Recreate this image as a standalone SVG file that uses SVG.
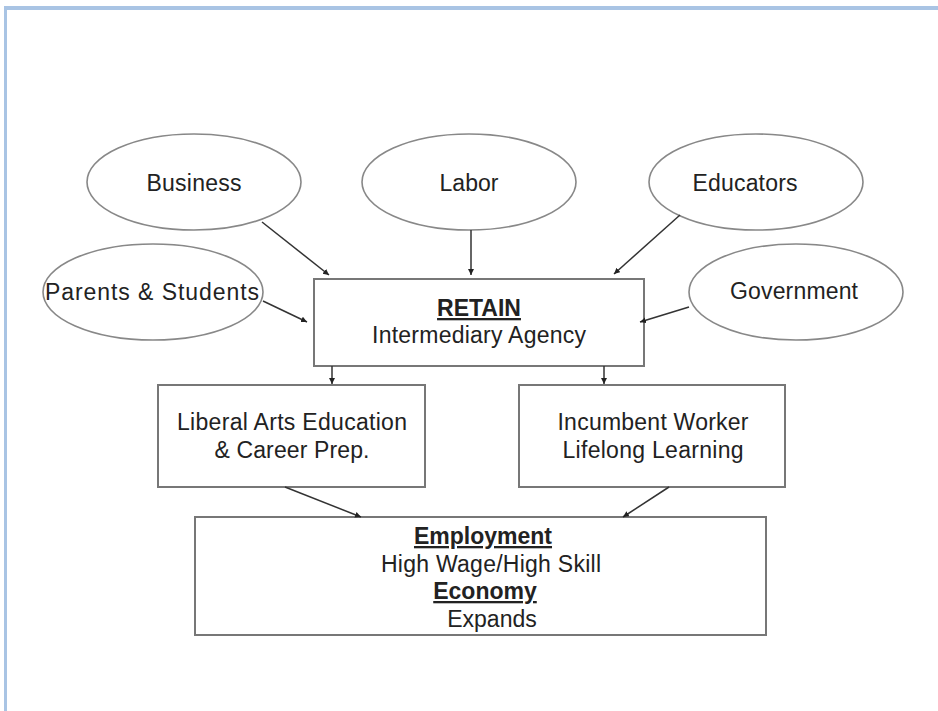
<svg xmlns="http://www.w3.org/2000/svg" width="938" height="711" viewBox="0 0 938 711">
<style>
.t{font-family:"Liberation Sans",Arial,sans-serif;font-size:23px;fill:#222;text-anchor:middle}
.b{font-weight:bold;text-decoration:underline}
.e{fill:#fff;stroke:#888;stroke-width:1.6}
.r{fill:#fff;stroke:#777;stroke-width:2}
.c{stroke:#333;stroke-width:1.5;fill:none;marker-end:url(#ah)}
</style>
<defs>
<marker id="ah" markerWidth="8" markerHeight="8" refX="6" refY="3" orient="auto" markerUnits="userSpaceOnUse">
<path d="M0,0 L6,3 L0,6 Z" fill="#222"/>
</marker>
</defs>
<rect x="0" y="0" width="938" height="711" fill="#fff"/>
<g id="frame">
<rect x="4" y="6" width="934" height="4" fill="#a9c4e4"/>
<rect x="4" y="6" width="3" height="705" fill="#a9c4e4"/>
</g>
<g id="business">
<ellipse class="e" cx="194" cy="182" rx="107" ry="48"/>
<text class="t" x="194" y="191" textLength="95">Business</text>
</g>
<g id="labor">
<ellipse class="e" cx="469" cy="182" rx="107" ry="48"/>
<text class="t" x="469" y="191">Labor</text>
</g>
<g id="educators">
<ellipse class="e" cx="756" cy="182" rx="107" ry="48"/>
<text class="t" x="745" y="191" textLength="105">Educators</text>
</g>
<g id="parents">
<ellipse class="e" cx="153" cy="292" rx="110" ry="48"/>
<text class="t" x="152" y="300" textLength="214">Parents &amp; Students</text>
</g>
<g id="government">
<ellipse class="e" cx="796" cy="292" rx="107" ry="48"/>
<text class="t" x="794" y="299" textLength="128">Government</text>
</g>
<g id="retain">
<rect class="r" x="314" y="279" width="330" height="87"/>
<text class="t b" x="479" y="316">RETAIN</text>
<text class="t" x="479" y="343" textLength="214">Intermediary Agency</text>
</g>
<g id="liberal">
<rect class="r" x="158" y="385" width="267" height="102"/>
<text class="t" x="292" y="430" textLength="230">Liberal Arts Education</text>
<text class="t" x="292" y="458" textLength="155">&amp; Career Prep.</text>
</g>
<g id="incumbent">
<rect class="r" x="519" y="385" width="266" height="102"/>
<text class="t" x="653" y="430" textLength="191">Incumbent Worker</text>
<text class="t" x="653" y="458" textLength="181">Lifelong Learning</text>
</g>
<g id="employment">
<rect class="r" x="195" y="517" width="571" height="118"/>
<text class="t b" x="483" y="544">Employment</text>
<text class="t" x="491" y="572" textLength="220">High Wage/High Skill</text>
<text class="t b" x="485" y="599">Economy</text>
<text class="t" x="492" y="627">Expands</text>
</g>
<g id="connectors">
<line class="c" x1="262" y1="222" x2="329" y2="275"/>
<line class="c" x1="471" y1="230" x2="471" y2="275"/>
<line class="c" x1="680" y1="215" x2="614" y2="274"/>
<line class="c" x1="263" y1="301" x2="307" y2="322"/>
<line class="c" x1="689" y1="307" x2="640" y2="322"/>
<line class="c" x1="332" y1="366" x2="332" y2="384"/>
<line class="c" x1="604" y1="366" x2="604" y2="384"/>
<line class="c" x1="285" y1="487" x2="361" y2="517"/>
<line class="c" x1="669" y1="487" x2="623" y2="517"/>
</g>
</svg>
